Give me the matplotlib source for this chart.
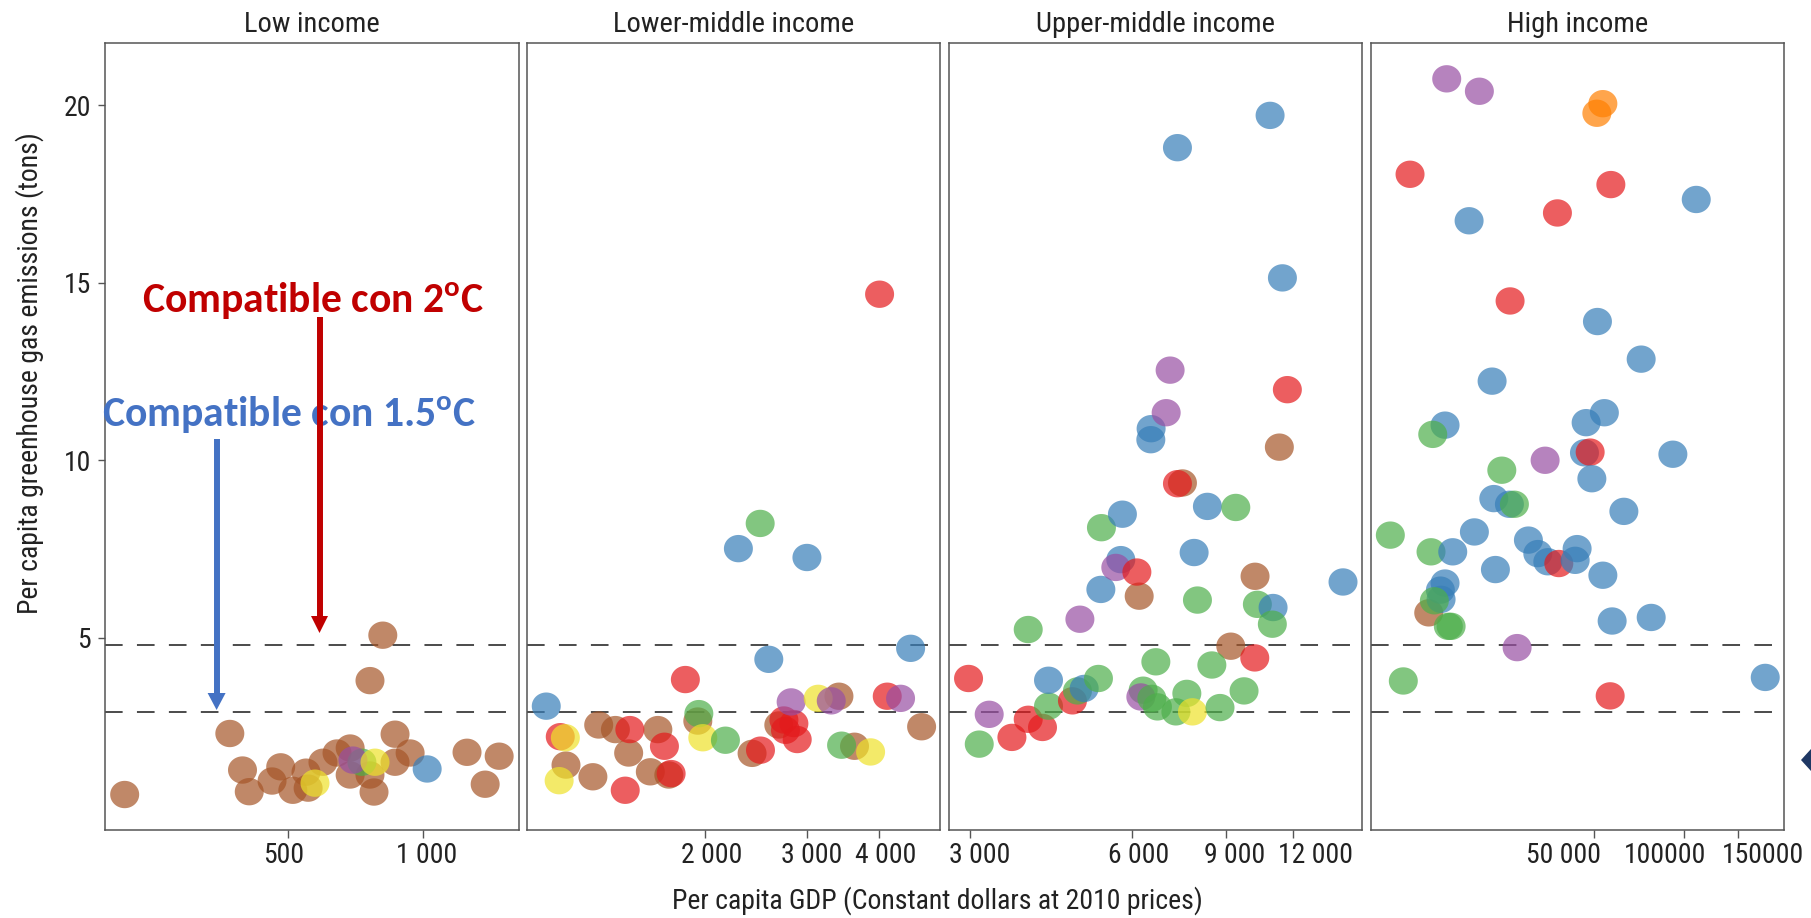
import numpy as np
import matplotlib
matplotlib.use("Agg")
import matplotlib.pyplot as plt
from matplotlib import font_manager
from matplotlib.path import Path
from matplotlib.lines import Line2D
from matplotlib.patches import Polygon
from matplotlib.ticker import NullLocator
from matplotlib.transforms import ScaledTranslation

# ---------------------------------------------------------------- fonts
installed = {f.name for f in font_manager.fontManager.ttflist}


def pick(*names):
    for n in names:
        if n in installed:
            return n
    return "DejaVu Sans"


BASE_FONT = pick("Liberation Sans Narrow", "Roboto Condensed", "DejaVu Sans Condensed", "Liberation Sans")
NOTE_FONT = pick("Carlito", "Lato", "Open Sans")
NOTE_SIZE = 30 if NOTE_FONT == "Carlito" else 27

plt.rcParams["font.family"] = [BASE_FONT, "DejaVu Sans"]
plt.rcParams["lines.scale_dashes"] = False

# ---------------------------------------------------------------- data
region_colors = {
    "blue": "#377EB8", "red": "#E41A1C", "green": "#4DAF4A", "purple": "#984EA3",
    "orange": "#FF7F00", "yellow": "#EEE22A", "brown": "#A65628",
}

panel_titles = ["Low income", "Lower-middle income", "Upper-middle income", "High income"]

# Low income
low_gdp = [216, 815, 763, 371, 396, 410, 482, 461, 513, 549, 555, 599, 644, 689, 689, 763,
           779, 868, 868, 938, 1257, 1483, 1380, 575, 732, 699, 783, 1024]
low_em = [0.58, 5.07, 3.79, 2.30, 1.27, 0.66, 1.36, 0.96, 0.70, 1.21, 0.76, 1.49, 1.75, 1.89, 1.13, 1.13,
          0.65, 2.28, 1.49, 1.75, 1.77, 1.66, 0.87, 0.90, 1.49, 1.55, 1.49, 1.30]
low_col = ["brown"] * 23 + ["yellow", "green", "purple", "yellow", "blue"]

# Lower-middle income
lmid_gdp = [1151, 1281, 1311, 1401, 1477, 1659, 1610, 1733, 1945, 2414, 2685, 3411, 3629, 4740,
            1064, 1125, 1148, 1120, 1484, 1457, 1703, 1749, 1851, 1953, 1984, 2171, 2496, 2580,
            2740, 2757, 2851, 2889, 2820, 3141, 3308, 3447, 3869, 4134, 4359, 4537,
            2493, 2286, 3003, 4010]
lmid_em = [1.41, 1.08, 2.54, 2.41, 1.75, 2.41, 1.22, 1.13, 2.65, 1.74, 2.54, 3.35, 1.94, 2.49,
           3.07, 2.21, 2.18, 0.97, 2.41, 0.70, 1.94, 1.17, 3.82, 2.86, 2.18, 2.11, 1.83, 4.39,
           2.68, 2.39, 2.58, 2.13, 3.19, 3.29, 3.22, 1.97, 1.78, 3.35, 3.29, 4.70,
           8.22, 7.51, 7.26, 14.68]
lmid_col = ["brown"] * 14 + ["blue", "red", "yellow", "yellow", "red", "red", "red", "red", "red",
                             "green", "yellow", "green", "red", "blue", "red", "red", "red", "red",
                             "purple", "yellow", "purple", "green", "yellow", "red", "purple", "blue",
                             "green", "blue", "blue", "red"]

# Upper-middle income
umid_gdp = [6193, 7456, 10181, 9175, 11300,
            2978, 3254, 3118, 3587, 3847, 4090, 4197, 4197, 4651, 4752, 4891, 5200, 3847, 4802,
            5254, 5723, 5602, 6132, 5267, 5763, 7298, 8299, 9374, 7839, 7952, 10283,
            11000, 10965, 14850, 10169, 6652, 8459, 9712, 6299, 6237, 6539, 6698, 7598, 7249,
            7783, 8760, 6518, 6510, 10860, 7298, 11450, 7072, 11695, 6953]
umid_em = [6.17, 9.36, 6.73, 4.76, 10.37,
           3.85, 2.84, 2.00, 2.19, 2.70, 2.47, 3.07, 3.80, 3.22, 3.50, 3.57, 3.85, 5.23, 5.52,
           6.36, 7.20, 6.98, 6.85, 8.10, 8.48, 9.34, 8.70, 8.67, 7.40, 6.06, 5.94,
           5.85, 5.38, 6.57, 4.43, 4.32, 4.23, 3.50, 3.52, 3.33, 3.29, 3.05, 3.43, 2.91,
           2.91, 3.03, 10.89, 10.58, 19.72, 18.81, 15.14, 12.54, 11.99, 11.34]
umid_col = ["brown"] * 5 + ["red", "purple", "green", "red", "red", "red", "green", "blue", "red",
                            "green", "blue", "green", "green", "purple", "blue", "blue", "purple",
                            "red", "green", "blue", "red", "blue", "green", "blue", "green", "green",
                            "blue", "green", "blue", "red", "green", "green", "green", "green",
                            "purple", "green", "green", "green", "green", "yellow", "green",
                            "blue", "blue", "blue", "blue", "blue", "purple", "red", "purple"]

# High income
high_gdp = [14150,
            16235, 20840, 53570, 51170, 12265, 56950, 109400, 19265, 37850, 26355, 51400, 71800,
            22970, 16030, 14590, 47140, 54190, 34450, 46540, 48610, 91500, 49250, 24740, 23270,
            26220, 27240, 62910, 10550, 20060, 14400, 17000, 30320, 32580, 35170, 38250, 44000,
            43350, 53570, 23560, 16030, 15470, 15550, 14770, 16440, 16790, 57510, 77520, 27810,
            11650, 185400, 56650]
high_em = [5.70,
           20.75, 20.40, 20.05, 19.78, 18.06, 17.77, 17.35, 16.75, 16.97, 14.49, 13.91, 12.85,
           12.23, 10.99, 10.73, 11.06, 11.34, 10.00, 10.21, 10.23, 10.17, 9.48, 9.72, 8.92,
           8.76, 8.76, 8.56, 7.89, 7.98, 7.42, 7.42, 7.75, 7.37, 7.14, 7.09, 7.51,
           7.18, 6.76, 6.92, 6.54, 6.34, 6.08, 6.04, 5.32, 5.32, 5.47, 5.57, 4.72,
           3.78, 3.88, 3.36]
high_col = ["brown",
            "purple", "purple", "orange", "orange", "red", "red", "blue", "blue", "red", "red", "blue", "blue",
            "blue", "blue", "green", "blue", "blue", "purple", "blue", "red", "blue", "blue", "green", "blue",
            "blue", "green", "blue", "green", "blue", "green", "blue", "blue", "blue", "blue", "red", "blue",
            "blue", "blue", "blue", "blue", "blue", "blue", "green", "green", "green", "blue", "blue", "purple",
            "green", "blue", "red"]

# Dashed reference levels (tons per capita)
threshold_2c = 4.8
threshold_15c = 2.9

# Axis ticks and labels per panel
x_ticks = [[500, 1000], [2000, 3000, 4000], [3000, 6000, 9000, 12000], [50000, 100000, 150000]]
x_tick_labels = [["500", "1 000"], ["2 000", "3 000", "4 000"],
                 ["3 000", "6 000", "9 000", "12 000"], ["50 000", "100000", "150000"]]
y_ticks = [5, 10, 15, 20]
y_tick_labels = ["5", "10", "15", "20"]

# ---------------------------------------------------------------- layout (pixels)
W, H = 1811, 918
panel_x = [(105.2, 518.6), (527.0, 940.0), (949.3, 1362.0), (1371.0, 1784.0)]
panel_top, panel_bottom = 43.0, 830.0
x_limits = [(195.4, 1639), (985.5, 5100), (2742, 16110), (9100, 214000)]
y_limits = (-0.42, 21.76)
label_shift_px = [[-4, 4], [7, 5, 7], [9, 7, 8, 22], [-30, -19, 25]]

TEXT = "#222222"
FRAME = "#555555"

fig = plt.figure(figsize=(W / 100, H / 100), dpi=100)

# slightly wide ellipse marker
t = np.linspace(0, 2 * np.pi, 73)
ellipse = Path(np.column_stack([1.06 * np.cos(t), np.sin(t)]), closed=True)

series = [(low_gdp, low_em, low_col), (lmid_gdp, lmid_em, lmid_col),
          (umid_gdp, umid_em, umid_col), (high_gdp, high_em, high_col)]

for i, ((x0, x1), (gdp, em, col)) in enumerate(zip(panel_x, series)):
    ax = fig.add_axes([x0 / W, 1 - panel_bottom / H, (x1 - x0) / W, (panel_bottom - panel_top) / H])
    ax.set_xscale("log")
    ax.set_xlim(*x_limits[i])
    ax.set_ylim(*y_limits)

    for lvl in (threshold_2c, threshold_15c):
        ax.axhline(lvl, color="#1a1a1a", lw=1.1, linestyle=(0, (12.7, 10.3)), zorder=2)

    ax.scatter(gdp, em, s=436, c=[region_colors[c] for c in col], alpha=0.7,
               marker=ellipse, linewidths=0, zorder=3)

    for sp in ax.spines.values():
        sp.set_color(FRAME)
        sp.set_linewidth(1.1)

    ax.xaxis.set_minor_locator(NullLocator())
    ax.set_xticks(x_ticks[i])
    ax.set_xticklabels(x_tick_labels[i])
    ax.tick_params(axis="x", length=5.8, width=1.0, color=FRAME, labelsize=20,
                   labelcolor=TEXT, pad=2.5)
    for lab, dx in zip(ax.get_xticklabels(), label_shift_px[i]):
        lab.set_transform(lab.get_transform() + ScaledTranslation(dx / 100, 0, fig.dpi_scale_trans))

    if i == 0:
        ax.set_yticks(y_ticks)
        ax.set_yticklabels(y_tick_labels)
        ax.tick_params(axis="y", length=5.4, width=1.0, color=FRAME, labelsize=20,
                       labelcolor=TEXT, pad=5)
    else:
        ax.set_yticks([])
    ax.yaxis.set_minor_locator(NullLocator())

    ax.set_title(panel_titles[i], fontsize=20.5, color=TEXT, pad=8)

# axis titles
fig.text(30 / W, 1 - 373 / H, "Per capita greenhouse gas emissions (tons)", rotation=90,
         ha="center", va="center", fontsize=20, color=TEXT)
fig.text(937 / W, 1 - 901 / H, "Per capita GDP (Constant dollars at 2010 prices)",
         ha="center", va="center", fontsize=20, color=TEXT)

# annotations
RED, BLUE = "#C00000", "#4472C4"
fig.text(313 / W, 1 - 313 / H, r"Compatible con 2$^{\mathregular{o}}$C", ha="center", va="baseline",
         color=RED, fontsize=NOTE_SIZE, fontweight="bold", family=[NOTE_FONT, "DejaVu Sans"])
fig.text(289 / W, 1 - 427 / H, r"Compatible con 1.5$^{\mathregular{o}}$C", ha="center", va="baseline",
         color=BLUE, fontsize=NOTE_SIZE, fontweight="bold", family=[NOTE_FONT, "DejaVu Sans"])


def down_arrow(x, y_start, y_head, y_tip, half_w, color):
    fig.add_artist(Line2D([x / W, x / W], [1 - y_start / H, 1 - (y_head + 1) / H],
                          transform=fig.transFigure, color=color, lw=4.3,
                          solid_capstyle="butt", zorder=10))
    fig.add_artist(Polygon([[(x - half_w) / W, 1 - y_head / H], [(x + half_w) / W, 1 - y_head / H],
                            [x / W, 1 - y_tip / H]], closed=True, transform=fig.transFigure,
                           facecolor=color, edgecolor="none", zorder=10))


down_arrow(319.5, 317, 616, 633, 8.5, RED)
down_arrow(216.6, 439, 693, 710, 9.0, BLUE)

# small navy marker on the right edge
fig.add_artist(Polygon([[1801 / W, 1 - 760 / H], [1.0, 1 - 749 / H], [1.0, 1 - 771 / H]],
                       closed=True, transform=fig.transFigure, facecolor="#1F3864",
                       edgecolor="none"))

fig.savefig("out.png", dpi=100)
